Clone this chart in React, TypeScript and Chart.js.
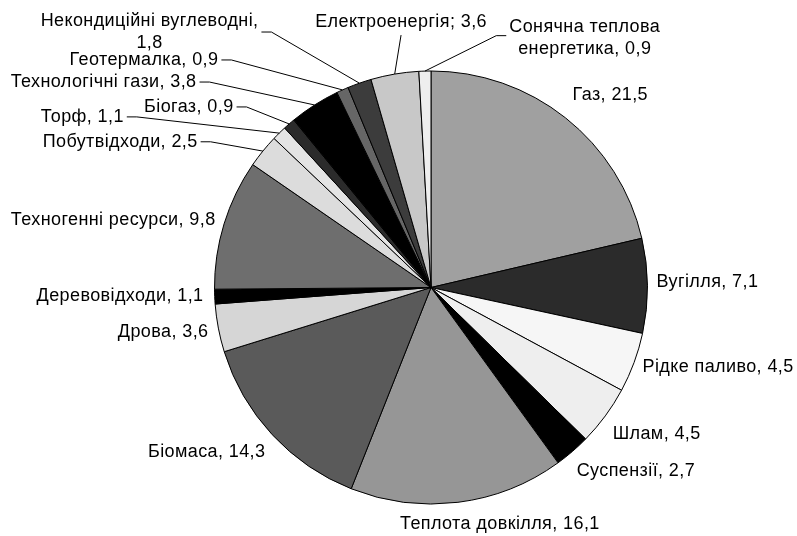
import React, { useEffect, useRef } from "react";
import { Chart, registerables } from "chart.js";

Chart.register(...registerables);

// ---- data ----
const categories = [
  "Газ",
  "Вугілля",
  "Рідке паливо",
  "Шлам",
  "Суспензії",
  "Теплота довкілля",
  "Біомаса",
  "Дрова",
  "Деревовідходи",
  "Техногенні ресурси",
  "Побутвідходи",
  "Торф",
  "Біогаз",
  "Технологічні гази",
  "Геотермалка",
  "Некондиційні вуглеводні",
  "Електроенергія",
  "Сонячна теплова енергетика",
];
const values = [21.5, 7.1, 4.5, 4.5, 2.7, 16.1, 14.3, 3.6, 1.1, 9.8, 2.5, 1.1, 0.9, 3.8, 0.9, 1.8, 3.6, 0.9];
const separators = [", ", ", ", ", ", ", ", ", ", ", ", ", ", ", ", ", ", ", ", ", ", ", ", ", ", ", ", ", ", ", ", "; ", ", "];
// number of words on the first line of a wrapped label (0 = single line)
const wrapAfterWords = [0, 0, 0, 0, 0, 0, 0, 0, 0, 0, 0, 0, 0, 0, 0, 2, 0, 2];

// ---- styles / layout ----
const colors = [
  "#a0a0a0", "#2b2b2b", "#f6f6f6", "#eeeeee", "#000000", "#969696",
  "#5a5a5a", "#d6d6d6", "#000000", "#6e6e6e", "#dcdcdc", "#e4e4e4",
  "#2b2b2b", "#000000", "#666666", "#3c3c3c", "#c8c8c8", "#eeeeee",
];
// label anchor relative to pie centre, in units of the radius: [ux, uy, align, leader]
type Anchor = [number, number, CanvasTextAlign, string | null];
const labelAnchors: Anchor[] = [
  [0.654, -0.889, "left", null],
  [1.041, -0.023, "left", null],
  [0.977, 0.369, "left", null],
  [0.839, 0.677, "left", null],
  [0.673, 0.848, "left", null],
  [-0.143, 1.092, "left", null],
  [-0.765, 0.76, "right", null],
  [-1.028, 0.207, "right", null],
  [-1.051, 0.041, "right", null],
  [-0.995, -0.313, "right", null],
  [-1.078, -0.673, "right", "end"],
  [-1.419, -0.788, "right", "end"],
  [-0.912, -0.834, "right", "end"],
  [-1.083, -0.949, "right", "end"],
  [-0.982, -1.051, "right", "end"],
  [-1.3, -1.18, "center", "end"],
  [-0.535, -1.226, "left", "below"],
  [0.71, -1.154, "center", "start"],
];
const FONT = '18px "Liberation Sans", Arial, sans-serif';
const LETTER_SPACING = "0.4px";
const LINE_H = 22;

const fmt = (v: number) => v.toFixed(1).replace(".", ",");

function labelLines(i: number): string[] {
  const text = categories[i] + separators[i] + fmt(values[i]);
  const n = wrapAfterWords[i];
  if (!n) return [text];
  const words = text.split(" ");
  return [words.slice(0, n).join(" "), words.slice(n).join(" ")];
}

const labelPlugin = {
  id: "pieLabels",
  afterDatasetsDraw(chart: any) {
    const ctx: CanvasRenderingContext2D = chart.ctx;
    const meta = chart.getDatasetMeta(0);
    ctx.save();
    ctx.font = FONT;
    (ctx as any).letterSpacing = LETTER_SPACING;
    ctx.fillStyle = "#000";
    ctx.strokeStyle = "#000";
    ctx.lineWidth = 1;
    ctx.textBaseline = "middle";
    meta.data.forEach((arc: any, i: number) => {
      const p = arc.getProps(["x", "y", "startAngle", "endAngle", "outerRadius"], true);
      const R = p.outerRadius;
      const [ux, uy, align, leader] = labelAnchors[i];
      const ax = p.x + ux * R;
      const ay = p.y + uy * R;
      const lines = labelLines(i);
      const widths = lines.map((l) => ctx.measureText(l).width);
      const maxW = Math.max(...widths);
      let left: number;
      if (align === "left") left = ax;
      else if (align === "right") left = ax - maxW;
      else left = ax - maxW / 2;
      const right = left + maxW;
      ctx.textAlign = align;
      lines.forEach((l, k) => {
        ctx.fillText(l, ax, ay + (k - (lines.length - 1) / 2) * LINE_H);
      });
      if (leader) {
        const mid = (p.startAngle + p.endAngle) / 2;
        const ex = p.x + Math.cos(mid) * R;
        const ey = p.y + Math.sin(mid) * R;
        ctx.beginPath();
        if (leader === "end") {
          ctx.moveTo(right + 3, ay);
          ctx.lineTo(right + 13, ay);
        } else if (leader === "start") {
          ctx.moveTo(left - 3, ay - 2);
          ctx.lineTo(left - 13, ay - 2);
        } else {
          ctx.moveTo(left + maxW / 2, ay + 13);
        }
        ctx.lineTo(ex, ey);
        ctx.stroke();
      }
    });
    ctx.restore();
  },
};

export default function App() {
  const ref = useRef<HTMLCanvasElement>(null);
  useEffect(() => {
    if (!ref.current) return;
    const chart = new Chart(ref.current, {
      type: "pie",
      data: {
        labels: categories,
        datasets: [
          {
            data: values,
            backgroundColor: colors,
            borderColor: "#000",
            borderWidth: 1,
          },
        ],
      },
      options: {
        responsive: false,
        animation: false,
        layout: { padding: { left: 214, right: 149, top: 70, bottom: 31 } },
        plugins: {
          legend: { display: false },
          tooltip: { enabled: false },
        },
      },
      plugins: [labelPlugin],
    });
    return () => chart.destroy();
  }, []);
  return (
    <div style={{ position: "fixed", left: 0, top: 0, width: 797, height: 536, background: "#fff" }}>
      <canvas ref={ref} width={797} height={536} />
    </div>
  );
}
